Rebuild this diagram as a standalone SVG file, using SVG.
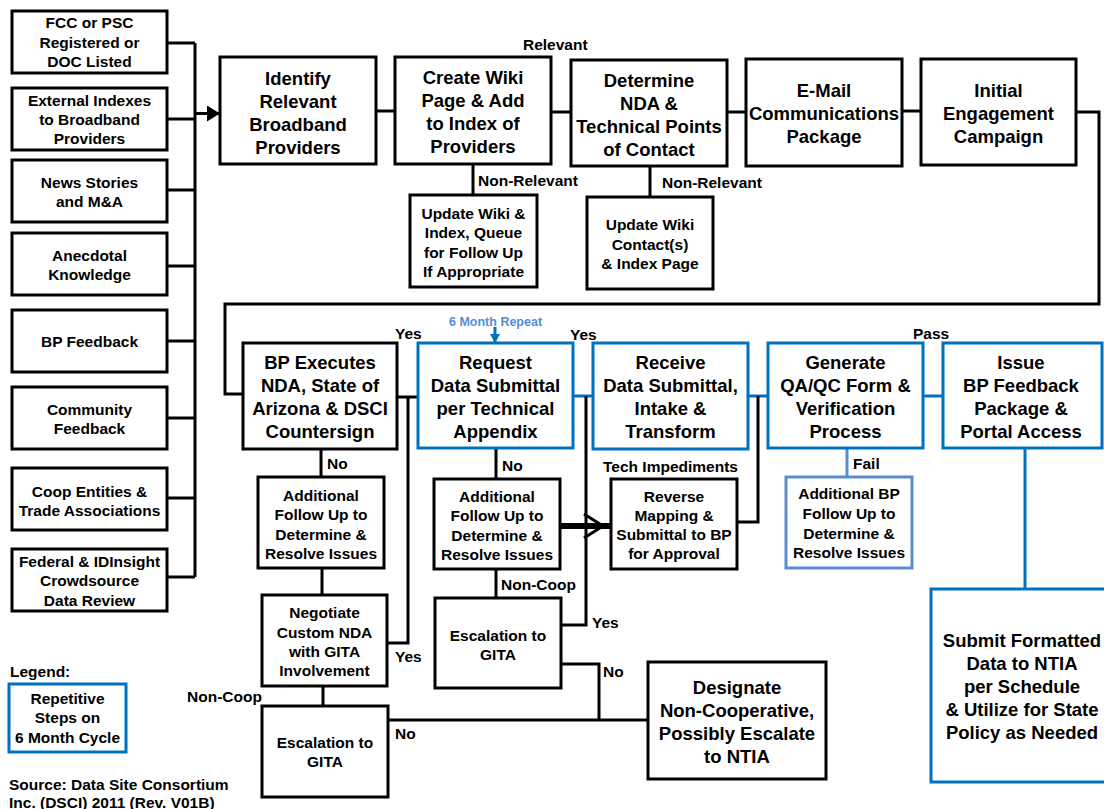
<svg xmlns="http://www.w3.org/2000/svg" width="1104" height="809" viewBox="0 0 1104 809">
  <style>
    text { font-family: "Liberation Sans", Arial, sans-serif; font-weight: bold; fill: #000; text-anchor: middle; }
    .big { font-size: 18.5px; }
    .sm { font-size: 15.5px; }
    .lbl { font-size: 15.5px; text-anchor: start; }
    .rep { font-size: 12.5px; fill: #558ED5; text-anchor: start; }
    .box { fill: #fff; stroke: #000; stroke-width: 3; }
    .bbox { fill: #fff; stroke: #0070C0; stroke-width: 3; }
    .lbox { fill: #fff; stroke: #5B8BD0; stroke-width: 3; }
    .ln { fill: none; stroke: #000; stroke-width: 3; }
    .bln { fill: none; stroke: #0070C0; stroke-width: 3; }
    .lbln { fill: none; stroke: #5B8BD0; stroke-width: 3; }
  </style>
  <defs>
    <marker id="arrowBlack" markerUnits="userSpaceOnUse" markerWidth="14" markerHeight="16" refX="13" refY="8" orient="auto">
      <path d="M0,0 L13,8 L0,16 Z" fill="#000"/>
    </marker>
    <marker id="arrowBlue" markerUnits="userSpaceOnUse" markerWidth="10" markerHeight="10" refX="9" refY="5" orient="auto">
      <path d="M0,0 L9,5 L0,10 Z" fill="#0070C0"/>
    </marker>
  </defs>

  <rect width="1104" height="809" fill="#fff"/>

  <!-- connectors -->
  <g id="connectors">
    <!-- source bus -->
    <path class="ln" d="M195,43 V577"/>
    <path class="ln" d="M167,43 H195 M167,119 H195 M167,190 H195 M167,266 H195 M167,341 H195 M167,418 H195 M167,498 H195 M167,577 H195"/>
    <path class="ln" d="M195,113.5 H220" marker-end="url(#arrowBlack)"/>
    <!-- top row -->
    <path class="ln" d="M376,111 H395"/>
    <path class="ln" d="M551,112 H571"/>
    <path class="ln" d="M727,112 H746"/>
    <path class="ln" d="M902,111 H921"/>
    <path class="ln" d="M473,164 V195"/>
    <path class="ln" d="M650,166 V197"/>
    <!-- loop back to second row -->
    <path class="ln" d="M1076,112 H1099 V304 H225 V394 H243"/>
    <!-- second row -->
    <path class="ln" d="M397,397 H418"/>
    <path class="ln" d="M408,397 V643 H387"/>
    <path class="bln" d="M573,396 H593"/>
    <path class="ln" d="M586,396 V625 H561"/>
    <path class="bln" d="M748,396 H768"/>
    <path class="ln" d="M758,396 V522 H737"/>
    <path class="bln" d="M923,396 H943"/>
    <path class="bln" d="M495,327 V343" marker-end="url(#arrowBlue)"/>
    <!-- downward branches -->
    <path class="ln" d="M321,449 V477"/>
    <path class="ln" d="M322,568 V595"/>
    <path class="ln" d="M323,686 V706"/>
    <path class="ln" d="M496,448 V479"/>
    <path class="ln" d="M496,569 V598"/>
    <path class="lbln" d="M847,448 V477"/>
    <path class="bln" d="M1025,448 V589"/>
    <!-- follow up to reverse mapping -->
    <path fill="none" stroke="#000" stroke-width="6" d="M560,526 H611"/>
    <path class="ln" d="M584,514 L603,526 L584,538"/>
    <!-- non-cooperative paths -->
    <path class="ln" d="M561,664 H599 V720"/>
    <path class="ln" d="M388,720 H648"/>
  </g>

  <!-- source nodes -->
  <g id="src-fcc">
    <rect class="box" x="12" y="11" width="155" height="62"/>
    <text class="sm" x="89.5" y="28">FCC or PSC</text>
    <text class="sm" x="89.5" y="47.5">Registered or</text>
    <text class="sm" x="89.5" y="67">DOC Listed</text>
  </g>
  <g id="src-indexes">
    <rect class="box" x="12" y="88" width="155" height="62"/>
    <text class="sm" x="89.5" y="106">External Indexes</text>
    <text class="sm" x="89.5" y="125">to Broadband</text>
    <text class="sm" x="89.5" y="144">Providers</text>
  </g>
  <g id="src-news">
    <rect class="box" x="12" y="160" width="155" height="62"/>
    <text class="sm" x="89.5" y="188">News Stories</text>
    <text class="sm" x="89.5" y="207">and M&amp;A</text>
  </g>
  <g id="src-anecdotal">
    <rect class="box" x="12" y="233" width="155" height="62"/>
    <text class="sm" x="89.5" y="261">Anecdotal</text>
    <text class="sm" x="89.5" y="280">Knowledge</text>
  </g>
  <g id="src-bp-feedback">
    <rect class="box" x="12" y="310" width="155" height="62"/>
    <text class="sm" x="89.5" y="347">BP Feedback</text>
  </g>
  <g id="src-community">
    <rect class="box" x="12" y="387" width="155" height="62"/>
    <text class="sm" x="89.5" y="415">Community</text>
    <text class="sm" x="89.5" y="434">Feedback</text>
  </g>
  <g id="src-coop">
    <rect class="box" x="12" y="468" width="155" height="62"/>
    <text class="sm" x="89.5" y="497">Coop Entities &amp;</text>
    <text class="sm" x="89.5" y="516">Trade Associations</text>
  </g>
  <g id="src-federal">
    <rect class="box" x="12" y="549" width="155" height="62"/>
    <text class="sm" x="89.5" y="567">Federal &amp; IDInsight</text>
    <text class="sm" x="89.5" y="586">Crowdsource</text>
    <text class="sm" x="89.5" y="606">Data Review</text>
  </g>

  <!-- top row -->
  <g id="identify">
    <rect class="box" x="220" y="57" width="156" height="107"/>
    <text class="big" x="298" y="85">Identify</text>
    <text class="big" x="298" y="108">Relevant</text>
    <text class="big" x="298" y="131">Broadband</text>
    <text class="big" x="298" y="154">Providers</text>
  </g>
  <g id="create-wiki">
    <rect class="box" x="395" y="57" width="156" height="107"/>
    <text class="big" x="473" y="84">Create Wiki</text>
    <text class="big" x="473" y="107">Page &amp; Add</text>
    <text class="big" x="473" y="130">to Index of</text>
    <text class="big" x="473" y="153">Providers</text>
  </g>
  <g id="update-wiki">
    <rect class="box" x="410" y="195" width="127" height="92"/>
    <text class="sm" x="473.5" y="219">Update Wiki &amp;</text>
    <text class="sm" x="473.5" y="238">Index, Queue</text>
    <text class="sm" x="473.5" y="257.5">for Follow Up</text>
    <text class="sm" x="473.5" y="277">If Appropriate</text>
  </g>
  <g id="determine">
    <rect class="box" x="571" y="60" width="156" height="106"/>
    <text class="big" x="649" y="87">Determine</text>
    <text class="big" x="649" y="110">NDA &amp;</text>
    <text class="big" x="649" y="133">Technical Points</text>
    <text class="big" x="649" y="156">of Contact</text>
  </g>
  <g id="update-contacts">
    <rect class="box" x="587" y="197" width="126" height="92"/>
    <text class="sm" x="650" y="230">Update Wiki</text>
    <text class="sm" x="650" y="250">Contact(s)</text>
    <text class="sm" x="650" y="269">&amp; Index Page</text>
  </g>
  <g id="email-package">
    <rect class="box" x="746" y="59" width="156" height="107"/>
    <text class="big" x="824" y="97">E-Mail</text>
    <text class="big" x="824" y="120">Communications</text>
    <text class="big" x="824" y="143">Package</text>
  </g>
  <g id="initial-campaign">
    <rect class="box" x="921" y="59" width="155" height="106"/>
    <text class="big" x="998.5" y="97">Initial</text>
    <text class="big" x="998.5" y="120">Engagement</text>
    <text class="big" x="998.5" y="143">Campaign</text>
  </g>

  <!-- second row -->
  <g id="bp-executes">
    <rect class="box" x="243" y="343" width="154" height="106"/>
    <text class="big" x="320" y="369">BP Executes</text>
    <text class="big" x="320" y="392">NDA, State of</text>
    <text class="big" x="320" y="415">Arizona &amp; DSCI</text>
    <text class="big" x="320" y="438">Countersign</text>
  </g>
  <g id="followup-nda">
    <rect class="box" x="258" y="477" width="126" height="91"/>
    <text class="sm" x="321" y="501">Additional</text>
    <text class="sm" x="321" y="520">Follow Up to</text>
    <text class="sm" x="321" y="540">Determine &amp;</text>
    <text class="sm" x="321" y="559">Resolve Issues</text>
  </g>
  <g id="negotiate">
    <rect class="box" x="262" y="595" width="125" height="91"/>
    <text class="sm" x="324.5" y="618">Negotiate</text>
    <text class="sm" x="324.5" y="638">Custom NDA</text>
    <text class="sm" x="324.5" y="657">with GITA</text>
    <text class="sm" x="324.5" y="676">Involvement</text>
  </g>
  <g id="escalation-nda">
    <rect class="box" x="262" y="706" width="126" height="91"/>
    <text class="sm" x="325" y="748">Escalation to</text>
    <text class="sm" x="325" y="767">GITA</text>
  </g>
  <g id="request-data">
    <rect class="bbox" x="418" y="343" width="155" height="105"/>
    <text class="big" x="495.5" y="369">Request</text>
    <text class="big" x="495.5" y="392">Data Submittal</text>
    <text class="big" x="495.5" y="415">per Technical</text>
    <text class="big" x="495.5" y="438">Appendix</text>
  </g>
  <g id="followup-request">
    <rect class="box" x="434" y="479" width="126" height="90"/>
    <text class="sm" x="497" y="502">Additional</text>
    <text class="sm" x="497" y="521">Follow Up to</text>
    <text class="sm" x="497" y="541">Determine &amp;</text>
    <text class="sm" x="497" y="560">Resolve Issues</text>
  </g>
  <g id="escalation-request">
    <rect class="box" x="435" y="598" width="126" height="90"/>
    <text class="sm" x="498" y="641">Escalation to</text>
    <text class="sm" x="498" y="660">GITA</text>
  </g>
  <g id="receive-data">
    <rect class="bbox" x="593" y="343" width="155" height="106"/>
    <text class="big" x="670.5" y="369">Receive</text>
    <text class="big" x="670.5" y="392">Data Submittal,</text>
    <text class="big" x="670.5" y="415">Intake &amp;</text>
    <text class="big" x="670.5" y="438">Transform</text>
  </g>
  <g id="reverse-mapping">
    <rect class="box" x="611" y="479" width="126" height="90"/>
    <text class="sm" x="674" y="502">Reverse</text>
    <text class="sm" x="674" y="521">Mapping &amp;</text>
    <text class="sm" x="674" y="540">Submittal to BP</text>
    <text class="sm" x="674" y="559">for Approval</text>
  </g>
  <g id="generate-qaqc">
    <rect class="bbox" x="768" y="343" width="155" height="105"/>
    <text class="big" x="845.5" y="369">Generate</text>
    <text class="big" x="845.5" y="392">QA/QC Form &amp;</text>
    <text class="big" x="845.5" y="415">Verification</text>
    <text class="big" x="845.5" y="438">Process</text>
  </g>
  <g id="followup-bp">
    <rect class="lbox" x="786" y="477" width="126" height="91"/>
    <text class="sm" x="849" y="499">Additional BP</text>
    <text class="sm" x="849" y="519">Follow Up to</text>
    <text class="sm" x="849" y="539">Determine &amp;</text>
    <text class="sm" x="849" y="558">Resolve Issues</text>
  </g>
  <g id="issue-feedback">
    <rect class="bbox" x="943" y="343" width="159" height="105"/>
    <text class="big" x="1021" y="369">Issue</text>
    <text class="big" x="1021" y="392">BP Feedback</text>
    <text class="big" x="1021" y="415">Package &amp;</text>
    <text class="big" x="1021" y="438">Portal Access</text>
  </g>
  <g id="designate">
    <rect class="box" x="648" y="662" width="178" height="117"/>
    <text class="big" x="737" y="694">Designate</text>
    <text class="big" x="737" y="717">Non-Cooperative,</text>
    <text class="big" x="737" y="740">Possibly Escalate</text>
    <text class="big" x="737" y="763">to NTIA</text>
  </g>
  <g id="submit-ntia">
    <rect class="bbox" x="931" y="589" width="182" height="193"/>
    <text class="big" x="1022" y="647">Submit Formatted</text>
    <text class="big" x="1022" y="670">Data to NTIA</text>
    <text class="big" x="1022" y="693">per Schedule</text>
    <text class="big" x="1022" y="716">&amp; Utilize for State</text>
    <text class="big" x="1022" y="739">Policy as Needed</text>
  </g>

  <!-- connector labels -->
  <g id="labels">
    <text class="lbl" x="523" y="50">Relevant</text>
    <text class="lbl" x="478" y="186">Non-Relevant</text>
    <text class="lbl" x="662" y="188">Non-Relevant</text>
    <text class="lbl" x="395" y="339">Yes</text>
    <text class="rep" x="449" y="326">6 Month Repeat</text>
    <text class="lbl" x="570" y="340">Yes</text>
    <text class="lbl" x="913" y="339">Pass</text>
    <text class="lbl" x="327" y="469">No</text>
    <text class="lbl" x="502" y="471">No</text>
    <text class="lbl" x="603" y="472">Tech Impediments</text>
    <text class="lbl" x="853" y="469">Fail</text>
    <text class="lbl" x="501" y="590">Non-Coop</text>
    <text class="lbl" x="592" y="628">Yes</text>
    <text class="lbl" x="395" y="662">Yes</text>
    <text class="lbl" x="603" y="677">No</text>
    <text class="lbl" x="187" y="702">Non-Coop</text>
    <text class="lbl" x="395" y="739">No</text>
  </g>

  <!-- legend and source note -->
  <g id="legend">
    <text class="lbl" x="10" y="677">Legend:</text>
    <rect class="bbox" x="9" y="684" width="117" height="68"/>
    <text class="sm" x="67.5" y="704">Repetitive</text>
    <text class="sm" x="67.5" y="723">Steps on</text>
    <text class="sm" x="67.5" y="743">6 Month Cycle</text>
  </g>
  <g id="source-note">
    <text class="lbl" x="9" y="790">Source: Data Site Consortium</text>
    <text class="lbl" x="9" y="808">Inc. (DSCI) 2011 (Rev. V01B)</text>
  </g>
</svg>
